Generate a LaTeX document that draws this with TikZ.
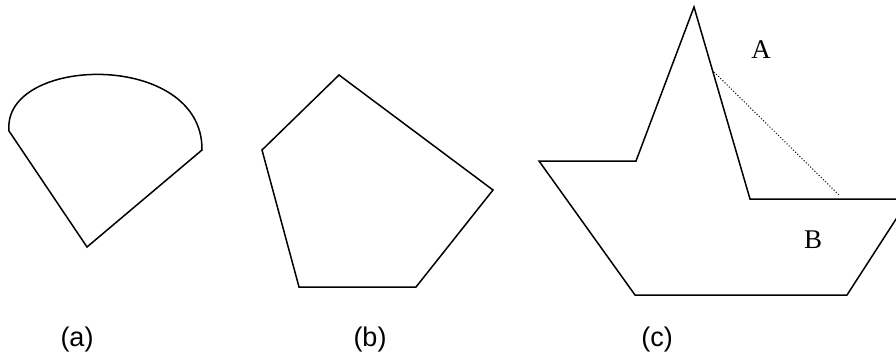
\documentclass[tikz,border=0pt]{standalone}
\usepackage{fontspec}
\setmainfont{Liberation Serif}
\newfontfamily\capfont{Liberation Sans}
\usetikzlibrary{positioning}

\begin{document}
\begin{tikzpicture}[
        x=1pt, y=-1pt,
        outline/.style={line width=1.5pt, line join=miter},
        guide/.style={line width=1pt, dotted},
        region/.style={font=\fontsize{27}{31}\selectfont},
        caption/.style={font=\capfont\fontsize{27}{31}\selectfont}
      ]
        \useasboundingbox (0,0) rectangle (896,361);
        \clip (0,0) rectangle (896,361);

        % (a) sector
        \draw[outline] (9,131) .. controls (2,55) and (203,50) .. (202,150)
          -- (87,247) -- cycle;

        % (b) pentagon
        \draw[outline] (339,75) -- (493,190) -- (416,287) -- (299,287) -- (262,150) -- cycle;

        % (c) boat
        \draw[outline] (539,161) -- (636,161) -- (694,7) -- (750,199) -- (909,199)
          -- (847,295) -- (635,295) -- cycle;
        \coordinate (tip) at (714,72);
        \coordinate (deck) at (840,196);
        \draw[guide] (tip) -- (deck);

        \node[region] (lblA) at (761,50) {A};
        \node[region] (lblB) at (813,240) {B};

        % captions
        \node[caption] (capa) at (77,340) {(a)};
        \node[caption] (capb) at (370,340) {(b)};
        \node[caption] (capc) at (657,340) {(c)};
      \end{tikzpicture}
\end{document}
